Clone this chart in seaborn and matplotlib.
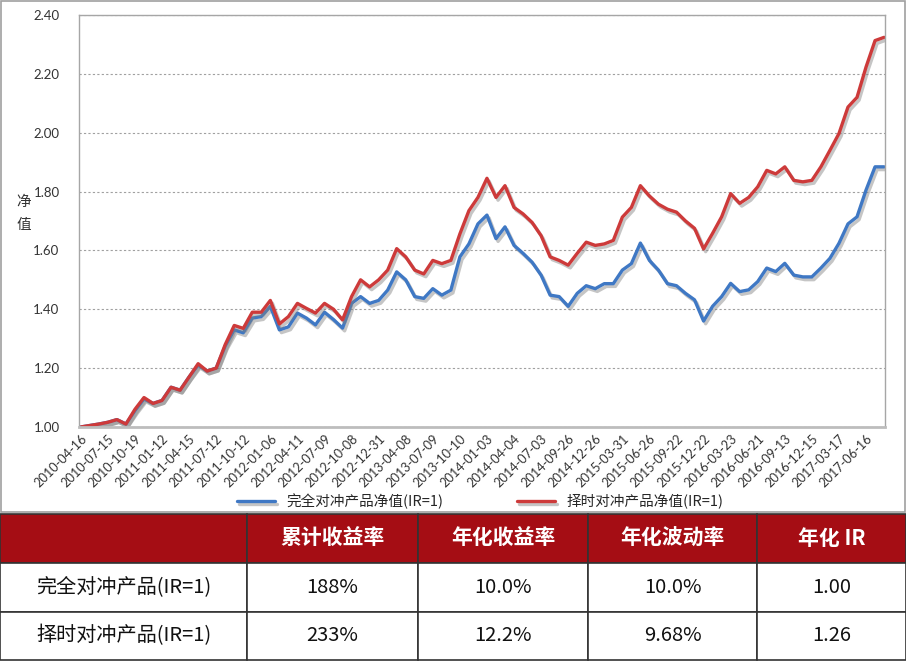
import pandas as pd
import numpy as np
import seaborn as sns
import matplotlib
matplotlib.use('Agg')
from matplotlib import pyplot as plt
import matplotlib.patheffects as pe
from matplotlib.patches import Rectangle

# net value curves (one point per ~1/3 of a label step)
full_hedge = [1.00, 1.005, 1.01, 1.016, 1.025, 1.01, 1.055, 1.095, 1.08, 1.09,
              1.135, 1.125, 1.17, 1.21, 1.19, 1.20, 1.275, 1.33, 1.32, 1.37,
              1.375, 1.41, 1.33, 1.34, 1.387, 1.37, 1.347, 1.39, 1.365, 1.336,
              1.42, 1.443, 1.42, 1.43, 1.465, 1.527, 1.50, 1.443, 1.437, 1.47,
              1.448, 1.465, 1.578, 1.622, 1.69, 1.72, 1.64, 1.68, 1.617, 1.59,
              1.56, 1.516, 1.448, 1.443, 1.41, 1.454, 1.48, 1.47, 1.487, 1.487,
              1.533, 1.555, 1.625, 1.566, 1.533, 1.487, 1.48, 1.454, 1.432, 1.36,
              1.41, 1.443, 1.488, 1.46, 1.466, 1.494, 1.54, 1.528, 1.556, 1.516,
              1.51, 1.51, 1.54, 1.573, 1.624, 1.69, 1.714, 1.805, 1.884, 1.884]
timing_hedge = [1.00, 1.005, 1.01, 1.016, 1.025, 1.01, 1.06, 1.10, 1.08, 1.09,
                1.135, 1.125, 1.17, 1.215, 1.19, 1.20, 1.28, 1.345, 1.335, 1.39,
                1.39, 1.43, 1.35, 1.375, 1.42, 1.403, 1.387, 1.42, 1.40, 1.364,
                1.443, 1.50, 1.476, 1.50, 1.533, 1.606, 1.578, 1.533, 1.52, 1.566,
                1.555, 1.566, 1.656, 1.735, 1.78, 1.845, 1.78, 1.82, 1.746, 1.724,
                1.695, 1.65, 1.578, 1.566, 1.55, 1.59, 1.628, 1.617, 1.622, 1.634,
                1.713, 1.746, 1.82, 1.785, 1.757, 1.74, 1.73, 1.70, 1.675, 1.605,
                1.658, 1.714, 1.793, 1.76, 1.78, 1.816, 1.872, 1.86, 1.884, 1.838,
                1.833, 1.838, 1.884, 1.94, 1.997, 2.087, 2.12, 2.223, 2.313, 2.324]

tick_dates = ['2010-04-16', '2010-07-15', '2010-10-19', '2011-01-12', '2011-04-15',
              '2011-07-12', '2011-10-12', '2012-01-06', '2012-04-11', '2012-07-09',
              '2012-10-08', '2012-12-31', '2013-04-08', '2013-07-09', '2013-10-10',
              '2014-01-03', '2014-04-04', '2014-07-03', '2014-09-26', '2014-12-26',
              '2015-03-31', '2015-06-26', '2015-09-22', '2015-12-22', '2016-03-23',
              '2016-06-21', '2016-09-13', '2016-12-15', '2017-03-17', '2017-06-16']

series_names = ['完全对冲产品净值(IR=1)', '择时对冲产品净值(IR=1)']
series_colors = ['#3F78C4', '#CD3A3A']

y_ticks = [1.00, 1.20, 1.40, 1.60, 1.80, 2.00, 2.20, 2.40]

# summary table
table_header = ['', '累计收益率', '年化收益率', '年化波动率', '年化 IR']
table_rows = [['完全对冲产品(IR=1)', '188%', '10.0%', '10.0%', '1.00'],
              ['择时对冲产品(IR=1)', '233%', '12.2%', '9.68%', '1.26']]


sns.set_style('white')
plt.rcParams['font.family'] = ['Lato', 'Noto Sans CJK SC', 'DejaVu Sans']

n = len(full_hedge)
df = pd.DataFrame({'idx': list(range(n)) * 2,
                   'nav': full_hedge + timing_hedge,
                   'series': [series_names[0]] * n + [series_names[1]] * n})

fig = plt.figure(figsize=(9.06, 6.63), dpi=100)
ax = fig.add_axes([0.0872, 0.356, 0.8896, 0.6214])

sns.lineplot(data=df, x='idx', y='nav', hue='series',
             palette=dict(zip(series_names, series_colors)),
             linewidth=2.4, ax=ax)

for line in ax.lines:
    line.set_path_effects([pe.SimpleLineShadow(offset=(1.5, -2), shadow_color='#7f7f7f', alpha=0.45),
                           pe.Normal()])

handles, labels = ax.get_legend_handles_labels()
ax.get_legend().remove()

ax.set_xlim(-0.2, n - 0.9)
ax.set_ylim(1.0, 2.4)
ax.set_yticks(y_ticks)
ax.set_yticklabels(['%.2f' % v for v in y_ticks], fontsize=9.5, color='#333333')
ax.set_xticks(list(range(0, 3 * len(tick_dates), 3)))
ax.set_xticklabels(tick_dates, rotation=45, ha='right', va='top', rotation_mode='anchor',
                   fontsize=9.2, color='#333333')
ax.set_xlabel('')
ax.set_ylabel('')
ax.tick_params(axis='y', length=4, color='#A6A6A6', pad=10)
ax.tick_params(axis='x', length=0, pad=4)

ax.yaxis.grid(True, linestyle=(0, (2, 2)), color='#A0A0A0', linewidth=0.8)
ax.xaxis.grid(False)
for side in ['left', 'top', 'right']:
    ax.spines[side].set_color('#A6A6A6')
    ax.spines[side].set_linewidth(1)
ax.spines['bottom'].set_color('#BDBDBD')
ax.spines['bottom'].set_linewidth(2)

fig.text(0.026, 0.678, '净\n值', fontsize=10.5, ha='center', va='center',
         linespacing=1.9, color='#333333', family=['Noto Sans CJK SC'])

fig.legend(handles, labels, loc='center', bbox_to_anchor=(0.53, 0.244), ncol=2,
           frameon=False, handlelength=2.6, columnspacing=5,
           prop={'family': ['Noto Sans CJK SC'], 'size': 10.5})

# chart border
fig.patches.append(Rectangle((0.0015, 0.2285), 0.997, 0.770, transform=fig.transFigure,
                             fill=False, edgecolor='#A0A0A0', linewidth=1.2))

# table
ax_t = fig.add_axes([0.0, 0.004, 1.0, 0.221])
ax_t.axis('off')
col_w = np.array([247, 171, 170, 169, 149]) / 906
tab = ax_t.table(cellText=table_rows, colLabels=table_header, colWidths=list(col_w),
                 bbox=[0, 0, 1, 1], cellLoc='center')
tab.auto_set_font_size(False)
for (r, c), cell in tab.get_celld().items():
    cell.set_edgecolor('#333333')
    cell.set_linewidth(1.2)
    txt = cell.get_text()
    txt.set_fontfamily(['Noto Sans CJK SC'])
    if r == 0:
        cell.set_facecolor('#A50D14')
        txt.set_color('white')
        txt.set_fontsize(15)
        txt.set_fontweight('bold')
    else:
        cell.set_facecolor('white')
        txt.set_color('#111111')
        txt.set_fontsize(14.5)

fig.savefig('out.png', dpi=100)
